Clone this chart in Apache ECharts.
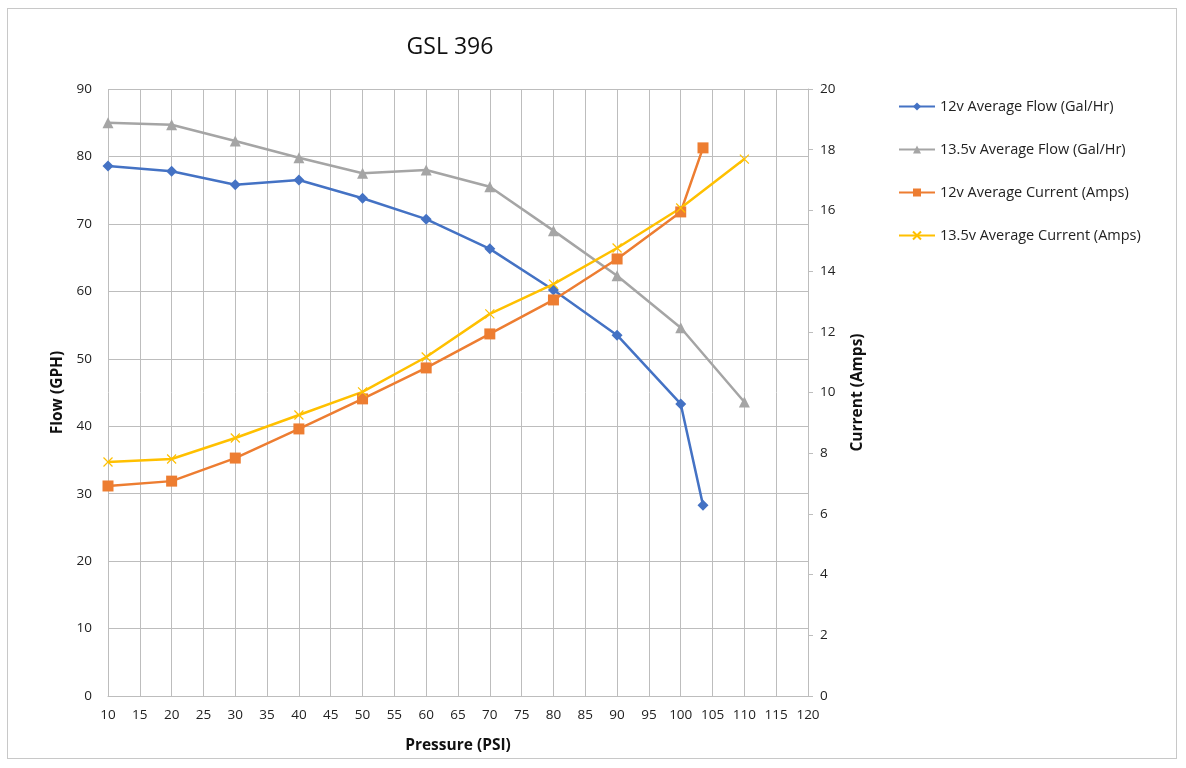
<!DOCTYPE html>
<html>
<head>
<meta charset="utf-8">
<script src="https://cdn.jsdelivr.net/npm/echarts@6/dist/echarts.min.js"></script>
<style>
  html, body { margin: 0; padding: 0; background: #fff; }
  #frame { position: absolute; left: 7px; top: 8px; width: 1170px; height: 751px; border: 1px solid #c8c8c8; box-sizing: border-box; }
  #chart { position: absolute; left: 0; top: 0; width: 1186px; height: 768px; }
</style>
</head>
<body>
<div id="frame"></div>
<div id="chart"></div>
<script>
    // pressure points (PSI)
    var pressure12 = [10, 20, 30, 40, 50, 60, 70, 80, 90, 100, 103.5];
    var pressure135 = [10, 20, 30, 40, 50, 60, 70, 80, 90, 100, 110];

    var flow12 = [78.6, 77.8, 75.8, 76.5, 73.8, 70.7, 66.3, 60.2, 53.5, 43.3, 28.3];
    var flow135 = [85.0, 84.7, 82.3, 79.8, 77.5, 78.0, 75.5, 69.0, 62.3, 54.6, 43.6];
    var current12 = [6.92, 7.08, 7.84, 8.80, 9.79, 10.81, 11.93, 13.05, 14.4, 15.95, 18.06];
    var current135 = [7.71, 7.81, 8.50, 9.26, 10.02, 11.17, 12.59, 13.57, 14.76, 16.08, 17.69];

    var seriesNames = [
        '12v Average Flow (Gal/Hr)',
        '13.5v Average Flow (Gal/Hr)',
        '12v Average Current (Amps)',
        '13.5v Average Current (Amps)'
    ];

    var font = '"Open Sans", Lato, sans-serif';

    function pairs(xs, ys) {
        return xs.map(function(x, i) { return [x, ys[i]]; });
    }

    var chart = echarts.init(document.getElementById('chart'));

    chart.setOption({
        backgroundColor: 'transparent',
        animation: false,
        textStyle: { fontFamily: font },
        title: {
            text: 'GSL 396',
            left: 445,
            top: 31,
            textAlign: 'center',
            textStyle: { fontFamily: font, fontSize: 23, fontWeight: 'normal', color: '#111' }
        },
        legend: {
            orient: 'vertical',
            left: 893,
            top: 94,
            itemGap: 28,
            itemWidth: 36,
            itemHeight: 10,
            textStyle: { fontFamily: font, fontSize: 14.5, color: '#222' },
            data: seriesNames
        },
        grid: { left: 108, right: 378, top: 89, bottom: 72 },
        xAxis: {
            type: 'value',
            min: 10, max: 120, interval: 5,
            name: 'Pressure (PSI)',
            nameLocation: 'middle',
            nameGap: 42,
            nameTextStyle: { fontFamily: font, fontSize: 15.5, fontWeight: 'bold', color: '#111' },
            axisLine: { show: true, lineStyle: { color: '#bdbdbd' } },
            axisTick: { show: false },
            axisLabel: { fontFamily: font, fontSize: 13.5, color: '#222', margin: 12 },
            splitLine: { show: true, lineStyle: { color: '#bdbdbd', width: 1 } }
        },
        yAxis: [{
            type: 'value',
            min: 0, max: 90, interval: 10,
            name: 'Flow (GPH)',
            nameLocation: 'middle',
            nameGap: 42,
            nameRotate: 90,
            nameTextStyle: { fontFamily: font, fontSize: 15.5, fontWeight: 'bold', color: '#111' },
            axisLine: { show: false },
            axisTick: { show: false },
            axisLabel: { fontFamily: font, fontSize: 13.5, color: '#222', margin: 16 },
            splitLine: { show: true, lineStyle: { color: '#bdbdbd', width: 1 } }
        }, {
            type: 'value',
            min: 0, max: 20, interval: 2,
            name: 'Current (Amps)',
            nameLocation: 'middle',
            nameGap: 42,
            nameRotate: 90,
            nameTextStyle: { fontFamily: font, fontSize: 15.5, fontWeight: 'bold', color: '#111' },
            axisLine: { show: true, lineStyle: { color: '#bdbdbd' } },
            axisTick: { show: true, length: 5, lineStyle: { color: '#bdbdbd' } },
            axisLabel: { fontFamily: font, fontSize: 13.5, color: '#222', margin: 12 },
            splitLine: { show: false }
        }],
        series: [{
            name: seriesNames[0],
            type: 'line',
            yAxisIndex: 0,
            data: pairs(pressure12, flow12),
            symbol: 'diamond',
            symbolSize: 11,
            color: '#4472c4',
            lineStyle: { width: 2.5 }
        }, {
            name: seriesNames[1],
            type: 'line',
            yAxisIndex: 0,
            data: pairs(pressure135, flow135),
            symbol: 'triangle',
            symbolSize: 11,
            color: '#a5a5a5',
            lineStyle: { width: 2.5 }
        }, {
            name: seriesNames[2],
            type: 'line',
            yAxisIndex: 1,
            data: pairs(pressure12, current12),
            symbol: 'rect',
            symbolSize: 11,
            color: '#ed7d31',
            lineStyle: { width: 2.5 }
        }, {
            name: seriesNames[3],
            type: 'line',
            yAxisIndex: 1,
            data: pairs(pressure135, current135),
            symbol: 'path://M0,0 L10,10 M10,0 L0,10',
            symbolSize: 9,
            color: '#ffc000',
            itemStyle: { color: 'none', borderColor: '#ffc000', borderWidth: 1.2 },
            lineStyle: { width: 2.5, color: '#ffc000' }
        }]
    });
</script>
</body>
</html>
